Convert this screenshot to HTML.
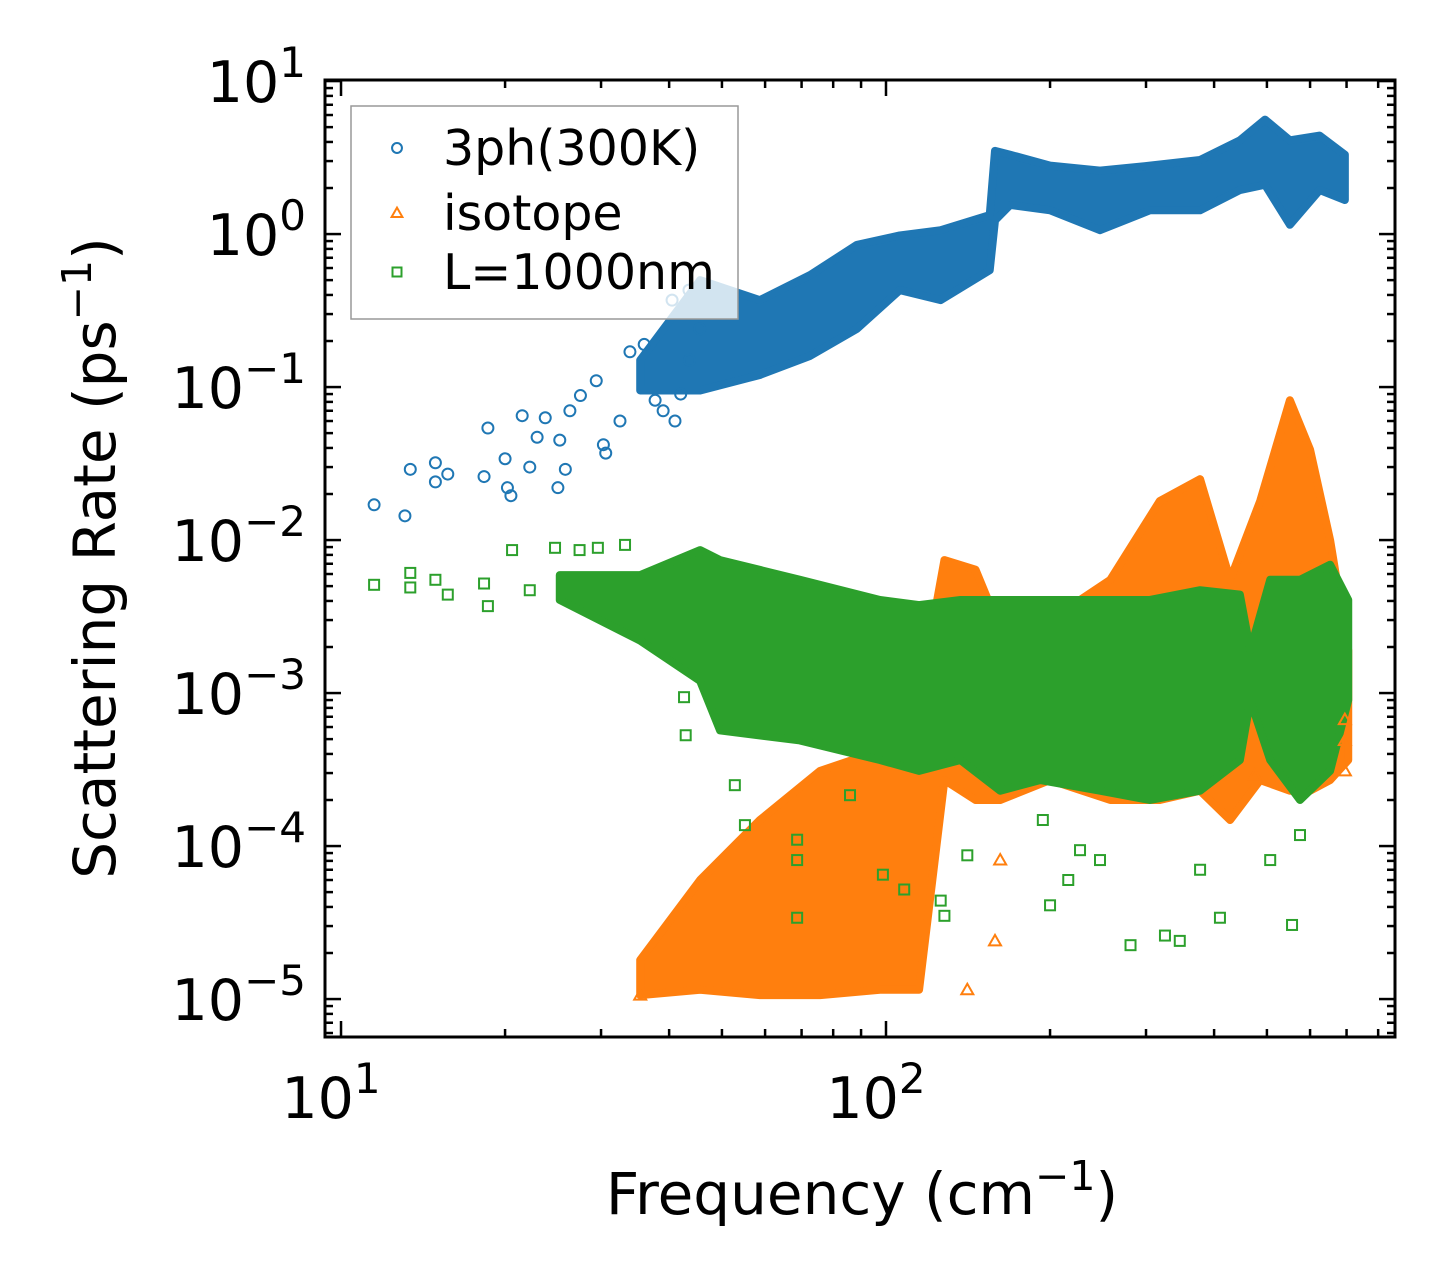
<!DOCTYPE html>
<html><head><meta charset="utf-8"><style>
html,body{margin:0;padding:0;background:#fff;}
svg{display:block;font-family:"DejaVu Sans","Liberation Sans",sans-serif;}
</style></head><body>
<svg id="chart" width="1455" height="1287" viewBox="0 0 1455 1287" xmlns="http://www.w3.org/2000/svg">
<rect width="1455" height="1287" fill="#fff"/>
<g id="bands"></g>
<g id="marks"></g>
<g id="axes"></g>
<g id="legend"></g>
</svg>
<script>
// ---- data (frequency in cm^-1, rate in ps^-1) ----
const blueFreq=[11.5,13.4,13.1,14.9,14.9,15.7,18.3,18.6,20,20.2,20.5,21.5,22.2,22.9,23.7,25,25.2,25.8,26.3,27.5,29.4,30.3,30.6,32.5,33.9,36,37.7,39,41,42,43.6,45.5,40.5,43.5];
const blueRate=[0.017,0.029,0.0144,0.032,0.024,0.027,0.026,0.054,0.034,0.022,0.0195,0.065,0.03,0.047,0.063,0.022,0.045,0.029,0.07,0.088,0.11,0.042,0.037,0.06,0.17,0.19,0.082,0.07,0.06,0.09,0.15,0.24,0.37,0.43];
const blueBandFreq=[35.4,45.6,58.7,72.6,88.4,106,126,155,158.5,169,200,247,305,377,446,496,551,625,695];
const blueBandTop=[0.15,0.5,0.37,0.54,0.85,0.98,1.06,1.33,3.5,3.3,2.8,2.6,2.8,3.05,4.1,5.6,4.1,4.4,3.3];
const blueBandBottom=[0.095,0.095,0.12,0.16,0.24,0.43,0.37,0.58,1.23,1.55,1.43,1.06,1.43,1.43,1.94,2.1,1.15,1.94,1.67];

const orangeFreq=[158.5,141,162,695,695,695,475,35.4];
const orangeRate=[2.4e-5,1.15e-5,8.1e-5,6.7e-4,4.9e-4,3.1e-4,2.9e-4,1.06e-5];
const orangeBandFreq=[35.4,45.6,58.7,75.7,97.5,115,128,146,162,200,258,318,377,428,486,551,600,653,705];
const orangeBandTop=[1.8e-5,6e-5,1.48e-4,3.1e-4,4.2e-4,9e-4,7.4e-3,6.4e-3,2.6e-3,3e-3,5.5e-3,1.8e-2,2.5e-2,5.5e-3,1.8e-2,8.2e-2,3.9e-2,1e-2,1.9e-3];
const orangeBandBottom=[1.06e-5,1.15e-5,1.06e-5,1.06e-5,1.15e-5,1.15e-5,2.7e-4,2.0e-4,2.0e-4,2.7e-4,2.0e-4,2.0e-4,2.3e-4,1.48e-4,2.7e-4,2.3e-4,2.3e-4,2.7e-4,3.65e-4];

const greenFreq=[11.5,13.4,13.4,14.9,15.7,18.3,18.6,20.6,22.2,24.7,27.4,29.6,33.2,33.9,42.6,42.9,52.8,55.1,68.7,68.7,68.7,85.9,98.7,108,126,128,141,200,216,247,281,325,346,377,410,507,556,575,194,227];
const greenRate=[5.1e-3,6.1e-3,4.9e-3,5.5e-3,4.4e-3,5.2e-3,3.7e-3,8.6e-3,4.7e-3,8.9e-3,8.6e-3,8.9e-3,9.3e-3,3.0e-3,9.4e-4,5.3e-4,2.5e-4,1.37e-4,1.1e-4,8.1e-5,3.4e-5,2.15e-4,6.5e-5,5.2e-5,4.4e-5,3.5e-5,8.7e-5,4.1e-5,6e-5,8.1e-5,2.25e-5,2.6e-5,2.4e-5,7e-5,3.4e-5,8.1e-5,3.05e-5,1.18e-4,1.48e-4,9.4e-5];
const greenBandFreq=[25.2,35.4,45.6,49.6,69.5,97.5,115,137,162,192,247,305,377,446,466,507,575,653,705];
const greenBandTop=[5.9e-3,5.9e-3,8.6e-3,7.4e-3,5.5e-3,4.06e-3,3.76e-3,4.06e-3,4.06e-3,4.06e-3,4.06e-3,4.06e-3,4.7e-3,4.4e-3,1.9e-3,5.5e-3,5.5e-3,6.9e-3,4.06e-3];
const greenBandBottom=[4.06e-3,2.2e-3,1.2e-3,5.7e-4,4.9e-4,3.65e-4,3.1e-4,3.65e-4,2.3e-4,2.7e-4,2.3e-4,2.0e-4,2.3e-4,3.65e-4,9.0e-4,3.65e-4,2.0e-4,3.1e-4,9.0e-4];

const xTickLabels=["1","2"];   // exponents for 10^1, 10^2
const yTickLabels=["1","0","\u22121","\u22122","\u22123","\u22124","\u22125"];

// ---- axes ----
const L=325,R=1395,T=80,B=1037;
const xLogMin=0.9706,xLogMax=2.934;
const yLogMin=-5.248,yLogMax=1.007;
const X=f=>L+(Math.log10(f)-xLogMin)/(xLogMax-xLogMin)*(R-L);
const Y=r=>B-(Math.log10(r)-yLogMin)/(yLogMax-yLogMin)*(B-T);
const NS="http://www.w3.org/2000/svg";
function mk(tag,attrs,parent){const e=document.createElementNS(NS,tag);for(const k in attrs)e.setAttribute(k,attrs[k]);parent.appendChild(e);return e;}
const C={blue:"#1f77b4",orange:"#ff7f0e",green:"#2ca02c"};

// bands
const bands=document.getElementById('bands');
function band(fr,top,bot,col,name){
  let pts=fr.map((f,i)=>X(f)+","+Y(top[i]));
  for(let i=fr.length-1;i>=0;i--)pts.push(X(fr[i])+","+Y(bot[i]));
  const p=mk('polygon',{points:pts.join(" "),fill:col,stroke:col,'stroke-width':8,'stroke-linejoin':'round'},bands);
  
  
}
band(blueBandFreq,blueBandTop,blueBandBottom,C.blue,'3ph-dense-band');
band(orangeBandFreq,orangeBandTop,orangeBandBottom,C.orange,'isotope-dense-band');
band(greenBandFreq,greenBandTop,greenBandBottom,C.green,'boundary-dense-band');

const marks=document.getElementById('marks');
function circ(x,y,col,g,s){s=s||1;return mk('circle',{cx:x,cy:y,r:5.5*s,fill:'none',stroke:col,'stroke-width':2},g);}
function tri(x,y,col,g,s){s=s||1;return mk('polygon',{points:`${x},${y-6*s} ${x-6*s},${y+4.5*s} ${x+6*s},${y+4.5*s}`,fill:'none',stroke:col,'stroke-width':2},g);}
function sq(x,y,col,g,s){s=s||1;return mk('rect',{x:x-5*s,y:y-5*s,width:10*s,height:10*s,fill:'none',stroke:col,'stroke-width':2},g);}
blueFreq.forEach((f,i)=>{const e=circ(X(f),Y(blueRate[i]),C.blue,marks);

});
orangeFreq.forEach((f,i)=>{const e=tri(X(f),Y(orangeRate[i]),C.orange,marks);

});
greenFreq.forEach((f,i)=>{const e=sq(X(f),Y(greenRate[i]),C.green,marks);

});

// axes
const ax=document.getElementById('axes');
const fr=mk('rect',{x:L,y:T,width:R-L,height:B-T,fill:'none',stroke:'#000','stroke-width':3},ax);


for(let e=1;e<=3;e++){for(let m=1;m<=9;m++){const v=m*Math.pow(10,e);const lx=Math.log10(v);if(lx<xLogMin||lx>xLogMax)continue;
  const x=X(v),len=m===1?16:8;
  mk('line',{x1:x,y1:B,x2:x,y2:B-len,stroke:'#000','stroke-width':2.5},ax);
  mk('line',{x1:x,y1:T,x2:x,y2:T+len,stroke:'#000','stroke-width':2.5},ax);}}
for(let e=-6;e<=1;e++){for(let m=1;m<=9;m++){const v=m*Math.pow(10,e);const ly=Math.log10(v);if(ly<yLogMin||ly>yLogMax)continue;
  const y=Y(v),len=m===1?16:8;
  mk('line',{x1:L,y1:y,x2:L+len,y2:y,stroke:'#000','stroke-width':2.5},ax);
  mk('line',{x1:R,y1:y,x2:R-len,y2:y,stroke:'#000','stroke-width':2.5},ax);}}
function powLabel(x,y,exp,anchor,name){
  const t=mk('text',{x:x,y:y,'font-size':57,'text-anchor':anchor,fill:'#000'},ax);
  
  
  t.appendChild(document.createTextNode('10'));
  const s=mk('tspan',{'font-size':42,dy:-25},t);s.textContent=exp;
}
xTickLabels.forEach((ex,i)=>powLabel(X(Math.pow(10,i+1))-10,1118,ex,'middle','x-tick-label'));
yTickLabels.forEach((ex,i)=>powLabel(306,Y(Math.pow(10,1-i))+21,ex,'end','y-tick-label'));
const xt=mk('text',{x:862,y:1214,'font-size':58,'text-anchor':'middle'},ax);


xt.innerHTML='Frequency (cm<tspan font-size="41" dy="-24">\u22121</tspan><tspan dy="24">)</tspan>';
const yt=mk('text',{x:0,y:0,'font-size':58,'text-anchor':'middle',transform:'translate(115,558) rotate(-90)'},ax);


yt.innerHTML='Scattering Rate (ps<tspan font-size="41" dy="-24">\u22121</tspan><tspan dy="24">)</tspan>';

// legend
const lg=document.getElementById('legend');
mk('rect',{x:351,y:106,width:387,height:213,fill:'#fff','fill-opacity':0.8,stroke:'#999','stroke-width':1.5},lg);
const entries=[['3ph(300K)',circ,C.blue,148],['isotope',tri,C.orange,213],['L=1000nm',sq,C.green,272]];
entries.forEach(([lab,fn,col,y])=>{
  const g=mk('g',{},lg);
  
  
  fn(397,y,col,g,0.9);
  const t=mk('text',{x:443,y:y+17,'font-size':49},g);t.textContent=lab;
});
</script>
</body></html>
